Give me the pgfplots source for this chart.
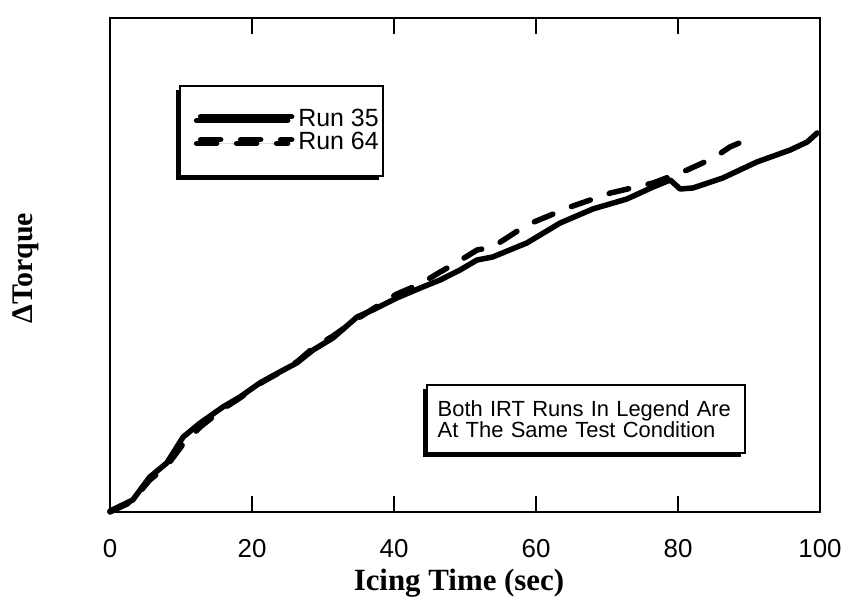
\documentclass[border=0pt]{standalone}
\usepackage{pgfplots}
\pgfplotsset{compat=1.18}
\usepackage{fontspec}
\setmainfont{Liberation Serif}
\newfontfamily\arial{Liberation Sans}
\usetikzlibrary{shadows}
\begin{document}
\begin{tikzpicture}[x=1bp,y=1bp]
\path[use as bounding box] (0,0) rectangle (848,598);
\begin{axis}[
  at={(110bp,86bp)}, anchor=south west,
  scale only axis, width=710bp, height=494bp,
  xmin=0, xmax=100, ymin=0, ymax=494,
  xtick={0,20,40,60,80,100}, ytick=\empty,
  tick align=inside, major tick length=16bp,
  tick style={line width=1.5bp, black},
  axis line style={line width=1.3bp},
  clip=false,
  /pgf/number format/assume math mode=true,
  xticklabel style={font=\arial\fontsize{26}{26}\selectfont, anchor=base, yshift=-46bp},
  xlabel={\bfseries Icing Time (sec)},
  xlabel style={at={(axis description cs:0.4915,-0.158)}, anchor=base, font=\fontsize{31}{31}\selectfont},
  ylabel={\bfseries ΔTorque},
  ylabel style={at={(axis description cs:-0.118,0.494)}, anchor=center, font=\fontsize{30}{30}\selectfont},
  legend style={at={(axis description cs:0.097,0.864)}, anchor=north west,
    draw=black, line width=2bp, fill=white,
    drop shadow={shadow xshift=-4bp, shadow yshift=-4bp, fill=black, opacity=1},
    inner xsep=4bp, inner ysep=22bp,
    font=\arial\fontsize{25}{25}\selectfont,
    row sep=0pt, column sep=4bp,
    nodes={inner sep=0pt, text height=18bp, text depth=5bp, font=\arial\fontsize{25}{25}\selectfont}},
  legend cell align=left,
  legend image code/.code={\path (-14bp,3bp); \draw[#1, line cap=round] (0bp,3bp) -- (91bp,3bp);},
]
\addplot[black, line width=5.5bp, line join=round, line cap=round] coordinates {
(0,1) (3.2,12) (5.6,35) (8.0,49) (10.3,75) (12.7,89) (15.9,105) (18.3,115) (21.1,129) (23.9,140) (26.3,149) (28.6,162) (31.4,174) (34.8,195) (37.0,202) (40.4,214) (43.7,224) (46.5,232) (49.3,242) (51.7,252) (53.9,255) (58.7,269) (63.4,289) (68.0,303) (72.8,313) (76.5,325) (78.9,332) (80.3,323) (82.1,324) (86.3,334) (91.1,350) (95.8,362) (98.2,370) (99.6,379)
};
\addlegendentry{Run 35}
\addplot[black, line width=5.5bp, line join=round, line cap=round, dash pattern=on 20bp off 20bp] coordinates {
(0,0) (3.0,10) (5.6,32) (8.0,46) (10.3,68) (12.7,85) (15.9,103) (18.3,114) (21.0,128) (24.0,140) (26.3,150) (28.6,164) (31.4,176) (34.8,193) (37.0,203) (40.4,218) (43.7,228) (46.5,240) (48.5,248) (51.7,262) (53.9,265) (58.7,287) (64.8,305) (70.5,319) (76.5,329) (81.3,342) (85.0,354) (87.3,365) (90.6,375)
};
\addlegendentry{Run 64}
\node[draw=black, line width=2bp, fill=white,
  drop shadow={shadow xshift=-4bp, shadow yshift=-4bp, fill=black, opacity=1},
  font=\arial\fontsize{22}{17}\selectfont, align=left, text width=296bp,
  inner xsep=11bp, minimum height=68bp]
  at (axis description cs:0.670,0.188) {Both IRT Runs In Legend Are\\At The Same Test Condition};
\end{axis}
\end{tikzpicture}
\end{document}
